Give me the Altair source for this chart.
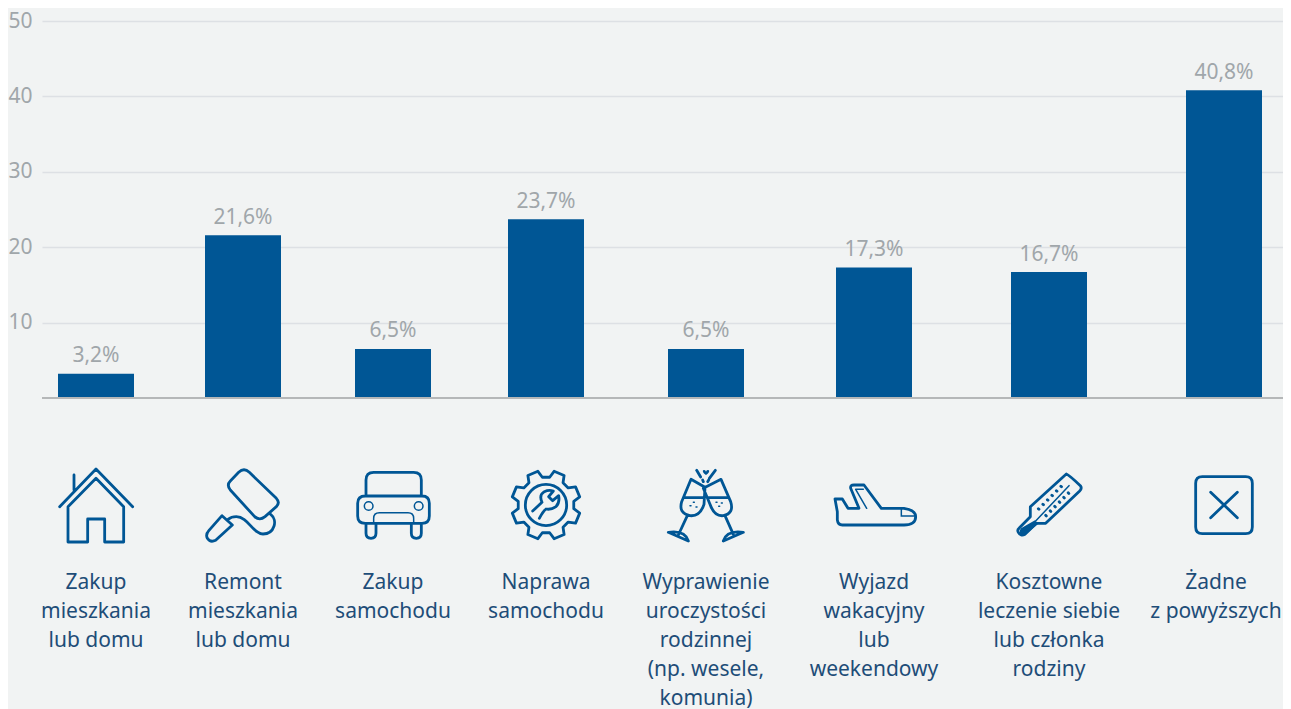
import math
import altair as alt
import pandas as pd

categories = [
    "Zakup\nmieszkania\nlub domu",
    "Remont\nmieszkania\nlub domu",
    "Zakup\nsamochodu",
    "Naprawa\nsamochodu",
    "Wyprawienie\nuroczystości\nrodzinnej\n(np. wesele,\nkomunia)",
    "Wyjazd\nwakacyjny\nlub\nweekendowy",
    "Kosztowne\nleczenie siebie\nlub członka\nrodziny",
    "Żadne\nz powyższych",
]
values = [3.2, 21.6, 6.5, 23.7, 6.5, 17.3, 16.7, 40.8]
value_labels = ["3,2%", "21,6%", "6,5%", "23,7%", "6,5%", "17,3%", "16,7%", "40,8%"]
y_ticks = [10, 20, 30, 40, 50]

BLUE = "#005695"
TEXT = "#1e4d78"
GREY = "#a0a6aa"
BG = "#f1f3f3"
FONT = "Noto Sans"


def gear():
    pts = []
    for k in range(8):
        a = 22.5 + 45 * k
        for da, r in ((-15, 84), (-9, 104), (9, 104), (15, 84)):
            t = math.radians(a + da)
            pts.append((r * math.cos(t), r * math.sin(t)))
    return "M" + " L".join(f"{x:.1f},{y:.1f}" for x, y in pts) + " Z"


def thermo_ticks():
    parts = []
    for i in range(6):
        for bx, by in ((-32 + 13.5 * i, 11 - 13.5 * i), (-10 + 13.5 * i, 31 - 13.5 * i)):
            parts.append(f"M{bx:.1f},{by:.1f} L{bx + 2:.1f},{by + 2:.1f}")
    return " ".join(parts)


icons_main = [
    "M-109,5 L0,-108 L110,5 M-66,-90 V-45 M-84,5 L0,-80 L83,5 V111 H26 V42 H-25 V111 H-84 Z",
    "M-13,-98 Q3,-114 19,-98 L100,-20 Q112,-7 100,5 L66,35 Q50,48 35,35 L-38,-45 Q-50,-60 -38,-72 Z "
    "M83,28 C105,45 95,87 60,87 C30,87 15,35 -20,35 Q-35,35 -45,43 "
    "M-63,32 L-32,60 L-82,106 Q-98,114 -107,100 Q-113,88 -102,76 Z",
    "M-81,-27 V-75 Q-81,-98 -58,-98 H62 Q85,-98 85,-75 V-27 "
    "M-83,-27 H87 Q109,-27 109,-5 V33 Q109,55 87,55 H-83 Q-106,55 -106,33 V-5 Q-106,-27 -83,-27 Z "
    "M-81,55 V85 Q-81,100 -66,100 Q-51,100 -51,85 V55 M55,55 V85 Q55,100 70,100 Q85,100 85,85 V55",
    gear() + " M-62,0 A62,62 0 1 0 62,0 A62,62 0 1 0 -62,0 Z "
    "M-40,18 L-12,-8 Q-22,-30 -5,-40 Q8,-46 22,-42 L8,-25 L20,-13 L38,-28 Q42,-8 30,5 Q15,15 0,12 Q-8,18 -20,40",
    "M-45,-77 L-73,-10 Q-83,25 -48,32 Q-18,35 -6,-2 L-3,-53 Z M-66,-22 H-8 M-56,32 L-83,90 "
    "M-113,82 Q-63,75 -53,108 Z M45,-77 L-8,-50 L12,-2 Q25,35 52,32 Q85,25 74,-10 Z M6,-22 H68 "
    "M57,32 L82,88 M112,82 Q62,75 52,108 Z M-28,-104 L-16,-84 M28,-104 L10,-80 M-10,-75 L-8,-70 M8,-75 L5,-70",
    "M-117,-18 H-95 L-78,10 H-45 L-70,-50 Q-72,-60 -60,-60 H-30 L22,10 H90 Q125,15 125,35 Q125,60 90,60 "
    "H-95 Q-108,60 -110,45 L-110,20 Z",
    "M52,-93 Q60,-90 94,-58 Q100,-50 92,-42 L-10,55 H-38 L-72,88 Q-85,95 -92,82 Q-96,75 -90,70 L-56,35 V5 Z "
    + thermo_ticks(),
    "M-65,-85 H65 Q85,-85 85,-65 V66 Q85,86 65,86 H-65 Q-85,86 -85,66 V-65 Q-85,-85 -65,-85 Z "
    "M-40,-38 L40,38 M40,-38 L-40,38",
]
icons_thin = [
    "M0,0",
    "M0,0",
    "M-86,3 A13,13 0 1 0 -60,3 A13,13 0 1 0 -86,3 Z M64,3 A13,13 0 1 0 90,3 A13,13 0 1 0 64,3 Z "
    "M-58,55 V40 Q-58,23 -41,23 H45 Q62,23 62,40 V55",
    "M0,0",
    "M-48,2 h3 M-38,-8 h3 M-30,6 h3 M30,-8 h3 M38,4 h3 M46,-6 h3",
    "M-55,-47 H-32 M-55,-47 L-22,10 M82,12 V33 H125",
    "M60,-58 L-40,48",
    "M0,0",
]
icons_fill = [
    "M0,0",
    "M0,0",
    "M0,0",
    "M0,0",
    "M-9,-104 Q-2,-108 0,-100 Q2,-108 9,-104 Q12,-98 0,-90 Q-12,-98 -9,-104 Z",
    "M0,0",
    "M-42,46 L-32,56 L-72,90 Q-84,94 -88,84 Q-90,76 -84,70 Z",
    "M0,0",
]

df = pd.DataFrame({
    "slot": list(range(len(categories))),
    "category": categories,
    "value": values,
    "label": value_labels,
    "main": icons_main,
    "thin": icons_thin,
    "fill": icons_fill,
})

x_scale = alt.Scale(
    domain=[-1, 0, 1, 2, 3, 4, 5, 6, 7, 8],
    range=[0, 54, 201, 351, 504, 664, 832, 1007, 1182, 1241],
    nice=False,
    zero=False,
    padding=0,
)
x = alt.X("slot:Q", scale=x_scale, axis=None)
y_scale = alt.Scale(domain=[0, 50], nice=False, padding=0)

base = alt.Chart(df)

bars = base.mark_bar(size=76, color=BLUE).encode(
    x=x,
    y=alt.Y(
        "value:Q",
        scale=y_scale,
        title=None,
        axis=alt.Axis(
            values=y_ticks,
            domain=False,
            ticks=False,
            labelPadding=10,
            labelFont=FONT,
            labelFontSize=21,
            labelColor=GREY,
            grid=True,
            gridColor="#dde0e4",
            gridWidth=1.6,
        ),
    ),
)
baseline = base.mark_rule(color="#b5b7b8", strokeWidth=2).encode(y=alt.datum(0))
value_text = base.mark_text(
    font=FONT, fontSize=21, color=GREY, baseline="middle", dy=-17.5
).encode(x=x, y=alt.Y("value:Q", scale=y_scale), text="label:N")


def cat_layer(test, dx):
    return (
        base.transform_filter(test)
        .mark_text(
            font=FONT, fontSize=21, color=TEXT, baseline="alphabetic",
            lineBreak="\n", lineHeight=29, dy=191, dx=dx,
        )
        .encode(x=x, y=alt.datum(0), text="category:N")
    )


cat_text = cat_layer("datum.slot < 7", 0)
# The last label would run past the page's right edge: nudge it to stay whole.
cat_text_last = cat_layer("datum.slot == 7", -8)


def icon(column, **kw):
    return base.mark_point(size=4 / 9, yOffset=107, opacity=1, **kw).encode(
        x=x,
        y=alt.datum(0),
        shape=alt.Shape(f"{column}:N", scale=None, legend=None),
    )


icon_main = icon("main", filled=False, color=BLUE, strokeWidth=2.8, strokeJoin="round", strokeCap="round")
icon_thin = icon("thin", filled=False, color=BLUE, strokeWidth=1.5, strokeCap="round")
icon_fill = icon("fill", filled=True, color=BLUE)

chart = (
    alt.layer(bars, baseline, value_text, cat_text, cat_text_last, icon_main, icon_thin, icon_fill)
    .properties(
        width=1241,
        height=377,
        background=BG,
        padding={"left": 34, "top": 13, "right": 0, "bottom": 311},
        autosize=alt.AutoSizeParams(type="none"),
    )
    .configure_view(stroke=None)
)

chart.save("out.html", embed_options={"renderer": "svg", "actions": False})
